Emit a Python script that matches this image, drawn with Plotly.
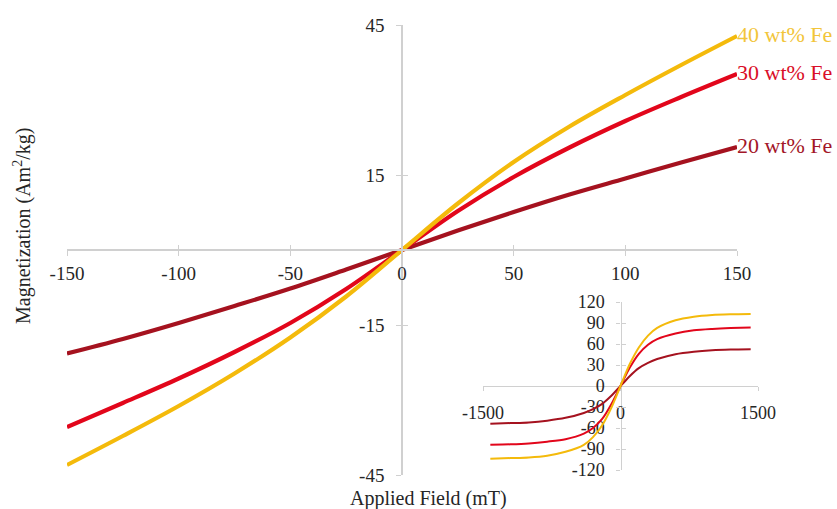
import plotly.graph_objects as go

# ---------------- data ----------------
field_mT = [-150, -125, -100, -75, -50, -25, 0, 25, 50, 75, 100, 125, 150]
m_fe40 = [-43.0, -37.2, -31.2, -24.7, -17.5, -9.3, 0.0, 9.3, 17.6, 24.7, 31.0, 37.0, 42.8]
m_fe30 = [-35.4, -30.6, -25.7, -20.4, -14.6, -7.8, 0.0, 7.8, 14.6, 20.5, 25.8, 30.6, 35.2]
m_fe20 = [-20.7, -17.8, -14.6, -11.2, -7.7, -3.9, 0.0, 3.9, 7.6, 11.1, 14.3, 17.5, 20.6]

inset_field = [-1420, -1200, -1000, -800, -600, -400, -300, -200, -100, 0,
               100, 200, 300, 400, 600, 800, 1000, 1200, 1420]
inset_fe40 = [-104, -103, -102, -99.5, -94, -84, -73, -56, -31, 0,
              31, 55, 72, 83, 94, 99, 101.5, 102.5, 103]
inset_fe30 = [-84, -83.3, -82, -79.5, -76, -68, -60, -47, -26, 0,
              26, 46, 59, 67, 75, 79.5, 81.5, 82.7, 83.5]
inset_fe20 = [-54, -53, -52, -49.5, -45.5, -38.5, -33, -25.5, -14, 0,
              14, 25.5, 33, 38.5, 45.5, 49, 51, 52, 52.5]

series_names = ["20 wt% Fe", "30 wt% Fe", "40 wt% Fe"]
main_x_ticks = [-150, -100, -50, 0, 50, 100, 150]
main_x_labels = ["-150", "-100", "-50", "0", "50", "100", "150"]
main_y_ticks = [-45, -15, 15, 45]
main_y_labels = ["-45", "-15", "15", "45"]
inset_x_ticks = [-1500, 0, 1500]
inset_x_labels = ["-1500", "0", "1500"]
inset_y_ticks = [-120, -90, -60, -30, 0, 30, 60, 90, 120]
inset_y_labels = ["-120", "-90", "-60", "-30", "0", "30", "60", "90", "120"]

# ---------------- styling ----------------
FONT = "Liberation Serif"
LINE_COLORS = ["#A5121F", "#E2061B", "#F4BA0B"]
TEXT_COLORS = ["#A31628", "#DA0E28", "#F2C53A"]
AXIS_COLOR = "#D0D0D0"
LABEL_COLOR = "#262626"

W, H = 837, 509
ML, MR, MT, MB = 67, 62, 25, 34
PW = W - ML - MR
PH = H - MT - MB

main_xdom = [0, 670 / PW]
inset_xdom = [(483 - ML) / PW, (758 - ML) / PW]
inset_ydom = [(H - MB - 470) / PH, (H - MB - 302) / PH]
main_ypos = 0.5
main_xpos = (main_xdom[0] + main_xdom[1]) / 2
inset_ypos = (inset_ydom[0] + inset_ydom[1]) / 2
inset_xpos = (inset_xdom[0] + inset_xdom[1]) / 2

fig = go.Figure()

main_series = [m_fe20, m_fe30, m_fe40]
for name, ys, lc, tc in zip(series_names, main_series, LINE_COLORS, TEXT_COLORS):
    texts = [""] * (len(ys) - 1) + [name]
    fig.add_trace(go.Scatter(
        x=field_mT, y=ys, mode="lines+text", name=name,
        line=dict(color=lc, width=4.2, shape="spline", smoothing=1.0),
        text=texts, textposition="middle right",
        textfont=dict(family=FONT, size=22, color=tc),
        cliponaxis=False, showlegend=False, hoverinfo="x+y",
        xaxis="x", yaxis="y"))

inset_series = [inset_fe20, inset_fe30, inset_fe40]
for name, ys, lc in zip(series_names, inset_series, LINE_COLORS):
    fig.add_trace(go.Scatter(
        x=inset_field, y=ys, mode="lines", name=name,
        line=dict(color=lc, width=2, shape="spline", smoothing=0.8),
        showlegend=False, xaxis="x2", yaxis="y2"))

# dummy traces so the overlay (inside-tick) axes exist
fig.add_trace(go.Scatter(x=[0], y=[0], mode="markers", marker=dict(opacity=0),
                         xaxis="x3", yaxis="y3", showlegend=False, hoverinfo="skip"))
fig.add_trace(go.Scatter(x=[0], y=[0], mode="markers", marker=dict(opacity=0),
                         xaxis="x4", yaxis="y4", showlegend=False, hoverinfo="skip"))

tickfont = dict(family=FONT, size=19, color=LABEL_COLOR)
inset_tickfont = dict(family=FONT, size=18, color=LABEL_COLOR)

common = dict(showgrid=False, zeroline=False, fixedrange=True)

fig.update_layout(
    width=W, height=H,
    margin=dict(l=ML, r=MR, t=MT, b=MB, autoexpand=False),
    paper_bgcolor="white", plot_bgcolor="white",
    showlegend=False,
    xaxis=dict(domain=main_xdom, range=[-150, 150], anchor="free", position=main_ypos,
               showline=True, linecolor=AXIS_COLOR, linewidth=1.5,
               ticks="outside", ticklen=5, tickwidth=1.2, tickcolor=AXIS_COLOR,
               tickmode="array", tickvals=main_x_ticks, ticktext=main_x_labels,
               tickfont=tickfont, ticklabelstandoff=1, **common),
    yaxis=dict(domain=[0, 1], range=[-45, 45], anchor="free", position=main_xpos,
               showline=True, linecolor=AXIS_COLOR, linewidth=1.5,
               ticks="outside", ticklen=5, tickwidth=1.2, tickcolor=AXIS_COLOR,
               tickmode="array", tickvals=main_y_ticks, ticktext=main_y_labels,
               tickfont=tickfont, ticklabelstandoff=8, **common),
    xaxis3=dict(domain=main_xdom, range=[-150, 150], anchor="free", position=main_ypos,
                overlaying="x", showline=False, ticks="inside", ticklen=5, tickwidth=1.2,
                tickcolor=AXIS_COLOR, tickmode="array", tickvals=main_x_ticks,
                showticklabels=False, **common),
    yaxis3=dict(domain=[0, 1], range=[-45, 45], anchor="free", position=main_xpos,
                overlaying="y", showline=False, ticks="inside", ticklen=5, tickwidth=1.2,
                tickcolor=AXIS_COLOR, tickmode="array", tickvals=main_y_ticks,
                showticklabels=False, **common),
    xaxis2=dict(domain=inset_xdom, range=[-1500, 1500], anchor="free", position=inset_ypos,
                showline=True, linecolor=AXIS_COLOR, linewidth=1.3,
                ticks="outside", ticklen=4, tickwidth=1, tickcolor=AXIS_COLOR,
                tickmode="array", tickvals=inset_x_ticks, ticktext=inset_x_labels,
                tickfont=inset_tickfont, ticklabelstandoff=6, layer="below traces", **common),
    yaxis2=dict(domain=inset_ydom, range=[-120, 120], anchor="free", position=inset_xpos,
                showline=True, linecolor=AXIS_COLOR, linewidth=1.3,
                ticks="outside", ticklen=4, tickwidth=1, tickcolor=AXIS_COLOR,
                tickmode="array", tickvals=inset_y_ticks, ticktext=inset_y_labels,
                tickfont=inset_tickfont, ticklabelstandoff=8, layer="below traces", **common),
    xaxis4=dict(domain=inset_xdom, range=[-1500, 1500], anchor="free", position=inset_ypos,
                overlaying="x2", showline=False, ticks="inside", ticklen=4, tickwidth=1,
                tickcolor=AXIS_COLOR, tickmode="array", tickvals=inset_x_ticks,
                showticklabels=False, layer="below traces", **common),
    yaxis4=dict(domain=inset_ydom, range=[-120, 120], anchor="free", position=inset_xpos,
                overlaying="y2", showline=False, ticks="inside", ticklen=4, tickwidth=1,
                tickcolor=AXIS_COLOR, tickmode="array", tickvals=inset_y_ticks,
                showticklabels=False, layer="below traces", **common),
    annotations=[
        dict(text="Magnetization (Am<sup>2</sup>/kg)", textangle=-90,
             xref="paper", yref="paper", x=(22 - ML) / PW, y=(H - MB - 226) / PH,
             xanchor="center", yanchor="middle", showarrow=False,
             font=dict(family=FONT, size=20, color=LABEL_COLOR)),
        dict(text="Applied Field (mT)",
             xref="paper", yref="paper", x=(428 - ML) / PW, y=(H - MB - 498) / PH,
             xanchor="center", yanchor="middle", showarrow=False,
             font=dict(family=FONT, size=20, color=LABEL_COLOR)),
    ],
)

fig.write_html("out.html")
